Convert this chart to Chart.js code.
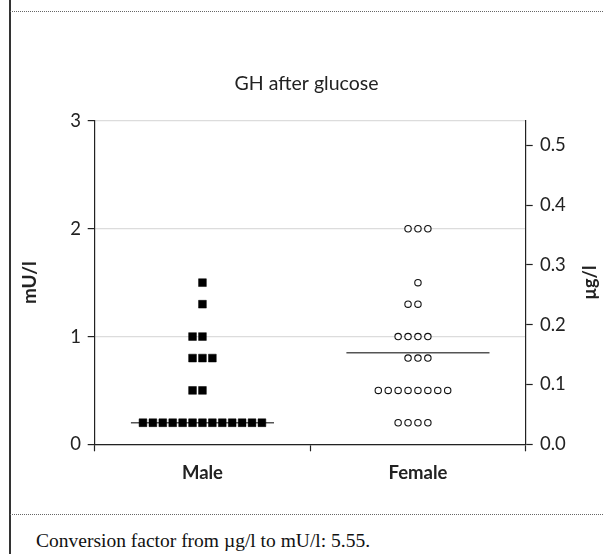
<!DOCTYPE html>
<html>
<head>
<meta charset="utf-8">
<script src="https://cdn.jsdelivr.net/npm/chart.js@4/dist/chart.umd.min.js"></script>
<style>
    html, body { margin: 0; padding: 0; background: #fff; }
    body { width: 603px; height: 554px; position: relative; overflow: hidden; }
    #frame { position: absolute; left: 9px; top: 0; width: 1.5px; height: 554px; background: #333; }
    .dots { position: absolute; left: 10px; right: 0; height: 0; border-top: 1px dotted #666; }
    #wrap { position: absolute; left: 10px; top: 12px; width: 593px; height: 502px; }
    #caption { position: absolute; left: 36px; top: 530px; line-height: 22px;
               font-family: "Liberation Serif", serif; font-size: 19.5px; color: #111; }
</style>
</head>
<body>
<div id="frame"></div>
<div class="dots" style="top:11px"></div>
<div id="wrap"><canvas id="gh-chart"></canvas></div>
<div class="dots" style="top:514px"></div>
<div id="caption">Conversion factor from µg/l to mU/l: 5.55.</div>

<script>
// GH after glucose: dot plot per sex, mU/l on the left, µg/l on the right.

const categories = ["Male", "Female"];
const maleValues = [
    0.2, 0.2, 0.2, 0.2, 0.2, 0.2, 0.2, 0.2, 0.2, 0.2, 0.2, 0.2, 0.2,
    0.5, 0.5,
    0.8, 0.8, 0.8,
    1.0, 1.0,
    1.3,
    1.5
];
const femaleValues = [
    0.2, 0.2, 0.2, 0.2,
    0.5, 0.5, 0.5, 0.5, 0.5, 0.5, 0.5, 0.5,
    0.8, 0.8, 0.8,
    1.0, 1.0, 1.0, 1.0,
    1.3, 1.3,
    1.5,
    2.0, 2.0, 2.0
];
const centreLines = [0.2, 0.85];
const leftTicks = [0, 1, 2, 3];
const rightTicks = [0.0, 0.1, 0.2, 0.3, 0.4, 0.5];
const conversionFactor = 5.55;

const INK = "#222";
const FONT = "Lato";
const DOT_STEP = 0.046;      // horizontal spacing between dots on one row (x units)
const LINE_HALF = 0.332;     // half width of the central line (x units)

// Lay dots with equal value side by side around the category centre.
function dotPoints(values, centre) {
    const rows = new Map();
    values.forEach(v => rows.set(v, (rows.get(v) || 0) + 1));
    const pts = [];
    rows.forEach((n, v) => {
        for (let i = 0; i < n; i++) {
            pts.push({ x: centre + (i - Math.floor(n / 2)) * DOT_STEP, y: v });
        }
    });
    return pts;
}

function centreLine(i) {
    const c = i + 1;
    return [{ x: c - LINE_HALF, y: centreLines[i] }, { x: c + LINE_HALF, y: centreLines[i] }];
}

// The right-hand axis title reads bottom to top, like the left one.
const rightTitle = {
    id: "rightTitle",
    afterDraw(chart) {
        const { ctx, chartArea } = chart;
        const s = chart.scales.y2;
        ctx.save();
        ctx.translate(s.right - 13, (chartArea.top + chartArea.bottom) / 2);
        ctx.rotate(-Math.PI / 2);
        ctx.font = `bold 18px ${FONT}`;
        ctx.fillStyle = INK;
        ctx.textAlign = "center";
        ctx.textBaseline = "middle";
        ctx.fillText("µg/l", 0, 0);
        ctx.restore();
    }
};

const leftMax = leftTicks[leftTicks.length - 1];

new Chart(document.getElementById("gh-chart"), {
    type: "scatter",
    data: {
        datasets: [
            {
                label: categories[0],
                data: dotPoints(maleValues, 1),
                pointStyle: "rect",
                pointRadius: 5.5,
                pointBackgroundColor: "#000",
                pointBorderColor: "#000",
                pointBorderWidth: 0.5,
                order: 0
            },
            {
                label: categories[1],
                data: dotPoints(femaleValues, 2),
                pointStyle: "circle",
                pointRadius: 3.2,
                pointBackgroundColor: "#fff",
                pointBorderColor: "#111",
                pointBorderWidth: 1.1,
                order: 0
            },
            {
                type: "line",
                data: centreLine(0),
                borderColor: "#555",
                borderWidth: 1.5,
                pointRadius: 0,
                order: 1
            },
            {
                type: "line",
                data: centreLine(1),
                borderColor: "#555",
                borderWidth: 1.5,
                pointRadius: 0,
                order: 1
            }
        ]
    },
    options: {
        responsive: true,
        maintainAspectRatio: false,
        animation: false,
        layout: { padding: 0 },
        plugins: {
            legend: { display: false },
            tooltip: { enabled: false },
            title: {
                display: true,
                text: "GH after glucose",
                color: INK,
                font: { family: FONT, size: 19.5, weight: "normal", lineHeight: 1.2 },
                padding: { top: 60.3, bottom: 25.3 }
            }
        },
        scales: {
            x: {
                type: "linear",
                min: 0.5,
                max: 2.5,
                afterBuildTicks: s => { s.ticks = [0.5, 1, 1.5, 2, 2.5].map(v => ({ value: v })); },
                afterFit: s => { s.height = 69.7; },
                border: { color: INK, width: 1.2 },
                grid: {
                    drawOnChartArea: false,
                    tickLength: 7,
                    tickWidth: 1.2,
                    tickColor: ctx => (ctx.tick && ctx.tick.value % 1 === 0.5) ? INK : "rgba(0,0,0,0)"
                },
                ticks: {
                    autoSkip: false,
                    maxRotation: 0,
                    padding: 11,
                    color: INK,
                    font: { family: FONT, size: 18.5, weight: "bold" },
                    callback: v => categories[v - 1] || ""
                }
            },
            y: {
                type: "linear",
                position: "left",
                min: 0,
                max: leftMax,
                afterBuildTicks: s => { s.ticks = leftTicks.map(v => ({ value: v })); },
                afterFit: s => { s.width = 84.7; },
                border: { color: INK, width: 1.2 },
                grid: {
                    color: "#dcdcdc",
                    lineWidth: 1.2,
                    tickLength: 7,
                    tickWidth: 1.2,
                    tickColor: INK
                },
                ticks: {
                    padding: 6.7,
                    color: INK,
                    font: { family: FONT, size: 18.5 },
                    callback: v => String(v)
                },
                title: {
                    display: true,
                    text: "mU/l",
                    color: INK,
                    font: { family: FONT, size: 19, weight: "bold", lineHeight: 1.2 },
                    padding: { top: 8.1, bottom: 0 }
                }
            },
            y2: {
                type: "linear",
                position: "right",
                min: 0,
                max: leftMax / conversionFactor,
                afterBuildTicks: s => { s.ticks = rightTicks.map(v => ({ value: v })); },
                afterFit: s => { s.width = 77.3; },
                border: { color: INK, width: 1.2 },
                grid: {
                    drawOnChartArea: false,
                    tickLength: 7,
                    tickWidth: 1.2,
                    tickColor: INK
                },
                ticks: {
                    padding: 7.3,
                    color: INK,
                    font: { family: FONT, size: 18.5 },
                    callback: v => v.toFixed(1)
                }
            }
        }
    },
    plugins: [rightTitle]
});
</script>
</body>
</html>
